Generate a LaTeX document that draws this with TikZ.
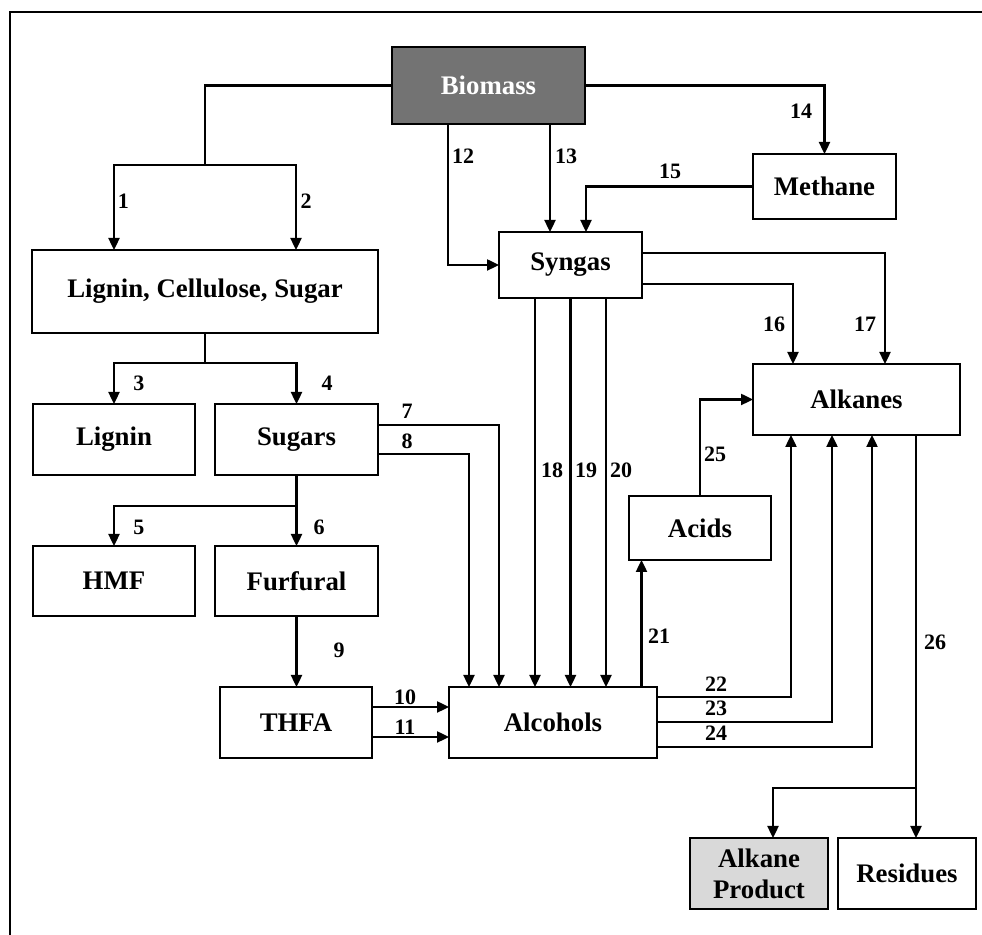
\documentclass[tikz,border=0pt]{standalone}
\usepackage{fontspec}
\setmainfont{Liberation Serif}
\usetikzlibrary{arrows.meta}
\begin{document}
\begin{tikzpicture}[x=0.5pt,y=-0.5pt,
  box/.style={draw, line width=1.2pt, rectangle, inner sep=0pt, outer sep=0pt,
    align=center, font=\fontsize{13.4}{15.5}\selectfont\bfseries},
  sz/.style 2 args={minimum width=#1*0.5pt, minimum height=#2*0.5pt},
  dark/.style={fill={rgb,255:red,115;green,115;blue,115}, text=white},
  light/.style={fill={rgb,255:red,217;green,217;blue,217}},
  link/.style={line width=1.2pt},
  arr/.style={link, -{Triangle[length=6pt,width=5.5pt]}},
  num/.style={inner sep=0pt, font=\fontsize{11}{12}\selectfont\bfseries},
  frame/.style={line width=1.3pt}]
\useasboundingbox (0,0) rectangle (982,935);
\draw[frame] (10,940) -- (10,12) -- (990,12);

% boxes
\node[box, dark, sz={193}{77}] (biomass) at (488.5,85.5) {Biomass};
\node[box, sz={346}{83}] (lcs) at (205,291.5) {Lignin, Cellulose, Sugar};
\node[box, sz={162}{71}] (lignin) at (114,439.5) {Lignin};
\node[box, sz={163}{71}] (sugars) at (296.5,439.5) {Sugars};
\node[box, sz={162}{70}] (hmf) at (114,581) {HMF};
\node[box, sz={163}{70}] (furfural) at (296.5,581) {Furfural};
\node[box, sz={152}{71}] (thfa) at (296,722.5) {THFA};
\node[box, sz={208}{71}] (alcohols) at (553,722.5) {Alcohols};
\node[box, sz={143}{66}] (syngas) at (570.5,265) {Syngas};
\node[box, sz={143}{65}] (methane) at (824.5,186.5) {Methane};
\node[box, sz={207}{71}] (alkanes) at (856.5,399.5) {Alkanes};
\node[box, sz={142}{64}] (acids) at (700,528) {Acids};
\node[box, light, sz={138}{71}] (product) at (759,873.5) {Alkane\\Product};
\node[box, sz={138}{71}] (residues) at (907,873.5) {Residues};

% junctions and bend points
\coordinate (s1) at (205,165);
\coordinate (s2) at (205,363);
\coordinate (s3) at (296.5,506);
\coordinate (c7) at (499,425);
\coordinate (c8) at (469,454);
\coordinate (c10) at (400,707);
\coordinate (c11) at (400,737);
\coordinate (c12) at (448,0);
\coordinate (c13) at (550,0);
\coordinate (c15) at (586,0);
\coordinate (c16) at (793,284);
\coordinate (c17) at (885,253);
\coordinate (c18) at (535,0);
\coordinate (c19) at (570.5,0);
\coordinate (c20) at (606,0);
\coordinate (c21) at (641.5,0);
\coordinate (c22) at (791,697);
\coordinate (c23) at (832,722);
\coordinate (c24) at (872,747);
\coordinate (c26) at (916,788);
\coordinate (c26l) at (773,788);
\coordinate (l1) at (114,0);
\coordinate (r1) at (296,0);

% biomass fractionation
\draw[link] (biomass.west) -| (s1);
\draw[arr] (s1) -| (l1 |- lcs.north);
\draw[arr] (s1) -| (r1 |- lcs.north);
\draw[link] (lcs.south) -- (s2);
\draw[arr] (s2) -| (lignin.north);
\draw[arr] (s2) -| (sugars.north);
\draw[link] (sugars.south) -- (s3);
\draw[arr] (s3) -| (hmf.north);
\draw[arr] (s3) -- (furfural.north);
\draw[arr] (furfural.south) -- (furfural.south |- thfa.north);
\draw[arr] (c7 -| sugars.east) -| (c7 |- alcohols.north);
\draw[arr] (c8 -| sugars.east) -| (c8 |- alcohols.north);
\draw[arr] (c10 -| thfa.east) -- (c10 -| alcohols.west);
\draw[arr] (c11 -| thfa.east) -- (c11 -| alcohols.west);

% gasification routes
\draw[arr] (c12 |- biomass.south) |- (syngas.west);
\draw[arr] (c13 |- biomass.south) -- (c13 |- syngas.north);
\draw[arr] (biomass.east) -| (methane.north);
\draw[arr] (methane.west) -| (c15 |- syngas.north);
\draw[arr] (c16 -| syngas.east) -| (c16 |- alkanes.north);
\draw[arr] (c17 -| syngas.east) -| (c17 |- alkanes.north);
\draw[arr] (c18 |- syngas.south) -- (c18 |- alcohols.north);
\draw[arr] (c19 |- syngas.south) -- (c19 |- alcohols.north);
\draw[arr] (c20 |- syngas.south) -- (c20 |- alcohols.north);

% upgrading to alkanes
\draw[arr] (c21 |- alcohols.north) -- (c21 |- acids.south);
\draw[arr] (acids.north) |- (alkanes.west);
\draw[arr] (c22 -| alcohols.east) -| (c22 |- alkanes.south);
\draw[arr] (c23 -| alcohols.east) -| (c23 |- alkanes.south);
\draw[arr] (c24 -| alcohols.east) -| (c24 |- alkanes.south);
\draw[link] (c26 |- alkanes.south) -- (c26);
\draw[arr] (c26) -- (c26 |- residues.north);
\draw[arr] (c26) -| (c26l |- product.north);

% route numbers
\node[num] (n1) at (123.5,201) {1};
\node[num] (n2) at (306,201) {2};
\node[num] (n3) at (139,383) {3};
\node[num] (n4) at (327,383) {4};
\node[num] (n5) at (139,527) {5};
\node[num] (n6) at (319,527) {6};
\node[num] (n7) at (407,411) {7};
\node[num] (n8) at (407,441) {8};
\node[num] (n9) at (339,650) {9};
\node[num] (n10) at (405,697) {10};
\node[num] (n11) at (405,727) {11};
\node[num] (n12) at (463,156) {12};
\node[num] (n13) at (566,156) {13};
\node[num] (n14) at (801,111) {14};
\node[num] (n15) at (670,171) {15};
\node[num] (n16) at (774,324) {16};
\node[num] (n17) at (865,324) {17};
\node[num] (n18) at (552,470) {18};
\node[num] (n19) at (586,470) {19};
\node[num] (n20) at (621,470) {20};
\node[num] (n21) at (659,636) {21};
\node[num] (n22) at (716,684) {22};
\node[num] (n23) at (716,708) {23};
\node[num] (n24) at (716,733) {24};
\node[num] (n25) at (715,454) {25};
\node[num] (n26) at (935,642) {26};
\end{tikzpicture}
\end{document}
